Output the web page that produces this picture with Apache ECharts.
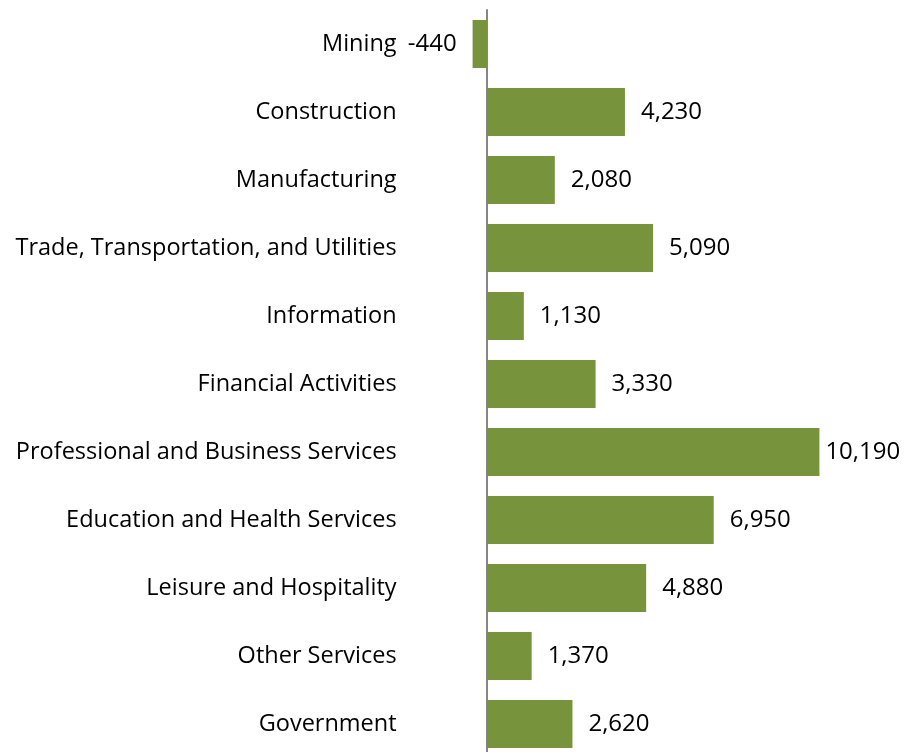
<!DOCTYPE html>
<html><head><meta charset="utf-8">
<script src="https://cdn.jsdelivr.net/npm/echarts@6/dist/echarts.min.js"></script>
<style>html,body{margin:0;padding:0;background:#fff;overflow:hidden}#c{width:917px;height:760px}</style>
</head><body><div id="c"></div>
<script>
const categories = ["Mining","Construction","Manufacturing","Trade, Transportation, and Utilities","Information","Financial Activities","Professional and Business Services","Education and Health Services","Leisure and Hospitality","Other Services","Government"];
const values = [-440,4230,2080,5090,1130,3330,10190,6950,4880,1370,2620];

const FONT = 'Open Sans';
const chart = echarts.init(document.getElementById('c'), null, {renderer:'canvas'});
const data = values.map(function(v){
  const item = {value: v};
  if (v === 10190) item.label = {distance: 6};
  return item;
});
chart.setOption({
  animation: false,
  grid: {left: 472.6, width: 346.8, top: 10, height: 748, containLabel: false},
  xAxis: {type:'value', min:-440, max:10190, show:true,
    axisLine:{show:false}, axisTick:{show:false}, axisLabel:{show:false}, splitLine:{show:false}},
  yAxis: {type:'category', data: categories, inverse: true,
    axisLine:{show:true, onZero:true, lineStyle:{color:'#868686', width:2}},
    axisTick:{show:false},
    axisLabel:{margin:76, fontFamily:FONT, fontSize:23.5, color:'#000'}},
  series: [{type:'bar', data: data, barWidth: 48,
    itemStyle:{color:'#77933C'},
    label:{show:true, position:'outside', distance:16, fontFamily:FONT, fontSize:24, color:'#000',
      formatter: function(p){ return p.value.toLocaleString('en-US'); }}}]
});
</script></body></html>
